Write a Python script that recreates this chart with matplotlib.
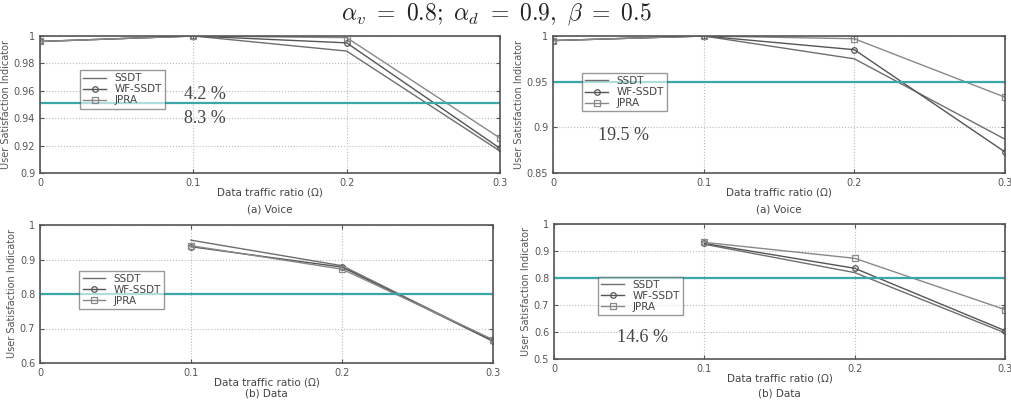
import numpy as np
import matplotlib
matplotlib.use('Agg')
import matplotlib.pyplot as plt

plt.rcParams['mathtext.fontset'] = 'cm'

# Data traffic ratio
x = [0, 0.1, 0.2, 0.3]
series = ['SSDT', 'WF-SSDT', 'JPRA']

# (a) Voice, left and right panels
voice_left = {
    'SSDT': [0.996, 1.0, 0.989, 0.916],
    'WF-SSDT': [0.996, 1.0, 0.995, 0.918],
    'JPRA': [0.996, 1.0, 0.9988, 0.9255],
}
voice_right = {
    'SSDT': [0.995, 1.0, 0.975, 0.887],
    'WF-SSDT': [0.995, 1.0, 0.985, 0.873],
    'JPRA': [0.995, 1.0, 0.997, 0.933],
}
# (b) Data, left and right panels (no value at 0)
data_left = {
    'SSDT': [np.nan, 0.956, 0.882, 0.665],
    'WF-SSDT': [np.nan, 0.937, 0.878, 0.663],
    'JPRA': [np.nan, 0.940, 0.872, 0.668],
}
data_right = {
    'SSDT': [np.nan, 0.925, 0.820, 0.597],
    'WF-SSDT': [np.nan, 0.928, 0.836, 0.605],
    'JPRA': [np.nan, 0.932, 0.873, 0.683],
}
thresholds = [0.951, 0.95, 0.8, 0.8]
ylims = [(0.9, 1.0), (0.85, 1.0), (0.6, 1.0), (0.5, 1.0)]
yticks = [[0.9, 0.92, 0.94, 0.96, 0.98, 1.0],
          [0.85, 0.9, 0.95, 1.0],
          [0.6, 0.7, 0.8, 0.9, 1.0],
          [0.5, 0.6, 0.7, 0.8, 0.9, 1.0]]
ytick_labels = [['0.9', '0.92', '0.94', '0.96', '0.98', '1'],
                ['0.85', '0.9', '0.95', '1'],
                ['0.6', '0.7', '0.8', '0.9', '1'],
                ['0.5', '0.6', '0.7', '0.8', '0.9', '1']]
captions = ['(a) Voice', '(a) Voice', '(b) Data', '(b) Data']
notes = [[('4.2 %', 0.094, 0.957), ('8.3 %', 0.094, 0.940)],
         [('19.5 %', 0.030, 0.8916)],
         [],
         [('14.6 %', 0.042, 0.581)]]
legend_pos = [(0.087, 0.75), (0.064, 0.73), (0.087, 0.67), (0.098, 0.61)]

styles = {'SSDT': dict(color='#6e6e6e', marker=None),
          'WF-SSDT': dict(color='#555555', marker='o'),
          'JPRA': dict(color='#888888', marker='s')}

fig = plt.figure(figsize=(10.11, 4.0), dpi=100)
W, H = 1011, 400
boxes = [(40, 36, 500, 173), (553, 36, 1005, 173),
         (40, 225, 493, 363), (554, 224, 1005, 359)]
caption_y = [209, 209, 393, 393]
panels = [voice_left, voice_right, data_left, data_right]

fig.text(496 / W, 1 - 14 / H,
         r'$\alpha_v\ =\ 0.8;\ \alpha_d\ =\ 0.9,\ \beta\ =\ 0.5$',
         ha='center', va='center', fontsize=17, color='#222222')

for i, (box, vals) in enumerate(zip(boxes, panels)):
    x0, y0, x1, y1 = box
    ax = fig.add_axes([x0 / W, 1 - y1 / H, (x1 - x0) / W, (y1 - y0) / H])
    for name in series:
        st = styles[name]
        ax.plot(x, vals[name], color=st['color'], lw=1.0, marker=st['marker'],
                markersize=4, markerfacecolor='none', markeredgewidth=0.9,
                label=name)
    ax.axhline(thresholds[i], color='#3aa8a8', lw=1.6)
    ax.set_xlim(0, 0.3)
    ax.set_ylim(*ylims[i])
    ax.set_xticks(x)
    ax.set_xticklabels(['0', '0.1', '0.2', '0.3'])
    ax.set_yticks(yticks[i])
    ax.set_yticklabels(ytick_labels[i])
    ax.grid(True, linestyle=':', color='#bbbbbb', lw=0.8)
    ax.tick_params(labelsize=7, colors='#555555', length=3, direction='in',
                   right=True, top=True)
    for s in ax.spines.values():
        s.set_color('#555555')
        s.set_linewidth(1.2)
    ax.set_xlabel('Data traffic ratio (Ω)', fontsize=7.5, color='#444444', labelpad=0)
    ax.set_ylabel('User Satisfaction Indicator', fontsize=7, color='#555555', labelpad=2)
    fig.text((x0 + x1) / 2 / W, 1 - caption_y[i] / H, captions[i], ha='center',
             va='center', fontsize=7.5, color='#444444')
    for txt, tx, ty in notes[i]:
        ax.text(tx, ty, txt, fontsize=13, family='Liberation Serif',
                color='#444444', va='center', ha='left')
    leg = ax.legend(loc='upper left', bbox_to_anchor=legend_pos[i], fontsize=7.5,
                    frameon=True, fancybox=False, borderpad=0.3, labelspacing=0.1,
                    handlelength=2.2, borderaxespad=0)
    leg.get_frame().set_edgecolor('#555555')
    leg.get_frame().set_linewidth(1.0)
    leg.get_frame().set_alpha(0.6)
    for t in leg.get_texts():
        t.set_color('#444444')

fig.savefig('out.png', dpi=100)
